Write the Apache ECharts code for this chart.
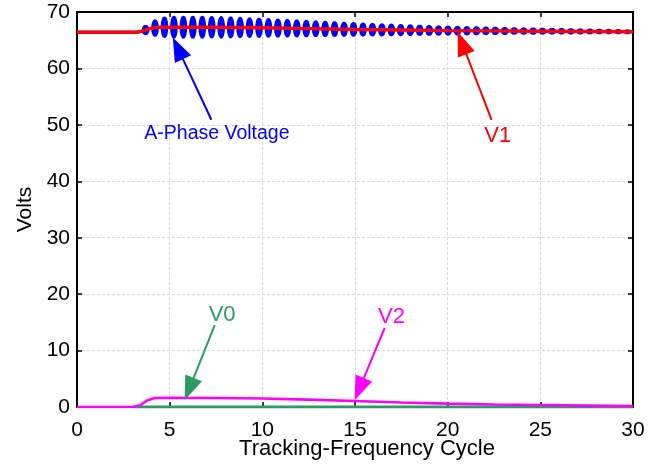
<!DOCTYPE html>
<html>
<head>
<meta charset="utf-8">
<script src="https://cdn.jsdelivr.net/npm/echarts@6/dist/echarts.min.js"></script>
<style>
html,body{margin:0;padding:0;background:#fff;}
#chart{width:670px;height:466px;}
</style>
</head>
<body>
<div id="chart"></div>
<script>
// ---------- data ----------
var xTicks = [0, 5, 10, 15, 20, 25, 30];
var yTicks = [0, 10, 20, 30, 40, 50, 60, 70];

// V1 (positive sequence)
var v1X = [0, 3.2, 3.5, 3.9, 4.3, 7, 10, 12.5, 15, 17.5, 20, 22.5, 25, 27.5, 30];
var v1Y = [66.4, 66.4, 66.6, 67.0, 67.3, 67.3, 67.2, 67.05, 66.9, 66.8, 66.7, 66.65, 66.6, 66.55, 66.5];

// A-phase voltage: steady part before the oscillation
var phaseX = [0, 3.2, 3.5];
var phaseY = [66.4, 66.4, 66.6];
// A-phase voltage: oscillation lobes (centre, mid value, half-height)
var lobeX = [3.70, 4.21, 4.72, 5.23, 5.74, 6.25, 6.76, 7.27, 7.78, 8.29, 8.80, 9.31, 9.82, 10.33, 10.84, 11.35, 11.86, 12.37, 12.88, 13.39, 13.90, 14.41, 14.92, 15.43, 15.94, 16.45, 16.96, 17.47, 17.98, 18.49, 19.00, 19.51, 20.02, 20.53, 21.04, 21.55, 22.06, 22.57, 23.08, 23.59, 24.10, 24.61, 25.12, 25.63, 26.14, 26.65, 27.16, 27.67, 28.18, 28.69, 29.20, 29.71];
var lobeMid = [66.8, 67.15, 67.3, 67.3, 67.3, 67.3, 67.3, 67.3, 67.28, 67.27, 67.25, 67.23, 67.2, 67.18, 67.15, 67.12, 67.09, 67.06, 67.03, 67.0, 66.97, 66.94, 66.91, 66.88, 66.86, 66.84, 66.82, 66.8, 66.78, 66.76, 66.74, 66.72, 66.7, 66.69, 66.68, 66.67, 66.66, 66.65, 66.64, 66.63, 66.62, 66.61, 66.6, 66.59, 66.58, 66.57, 66.56, 66.55, 66.54, 66.53, 66.52, 66.51];
var lobeAmp = [0.9, 1.55, 1.9, 2.05, 2.05, 2.05, 2.05, 2.0, 2.0, 1.95, 1.9, 1.85, 1.8, 1.75, 1.7, 1.65, 1.6, 1.55, 1.5, 1.45, 1.4, 1.35, 1.3, 1.25, 1.2, 1.16, 1.12, 1.08, 1.04, 1.0, 0.96, 0.92, 0.89, 0.86, 0.83, 0.8, 0.77, 0.74, 0.71, 0.68, 0.66, 0.64, 0.62, 0.6, 0.58, 0.56, 0.54, 0.52, 0.5, 0.48, 0.46, 0.44];

// V2 (negative sequence)
var v2X = [0, 3.0, 3.4, 3.8, 4.2, 5, 7.5, 10, 12.5, 15, 17.5, 20, 22.5, 25, 27.5, 30];
var v2Y = [0, 0, 0.3, 1.2, 1.6, 1.65, 1.6, 1.5, 1.3, 1.05, 0.8, 0.6, 0.45, 0.35, 0.25, 0.15];

// V0 (zero sequence)
var v0X = [3.1, 30];
var v0Y = [0, 0];

// annotation labels and anchors (data coordinates)
var annLabels = ['A-Phase Voltage', 'V1', 'V0', 'V2'];
var annText = [[7.55, 48.5], [22.7, 48.1], [7.83, 16.4], [16.97, 16.0]];
var annTail = [[7.25, 50.9], [22.37, 50.9], [7.43, 14.5], [16.6, 14.0]];
var annTip = [[5.17, 65.5], [20.54, 66.5], [5.81, 1.2], [14.98, 1.2]];

// ---------- styles ----------
var FONT = 'Liberation Sans, Arial, Helvetica, sans-serif';
var annColors = ['#0000ff', '#ff0000', '#2e9a63', '#ff00ff'];
var annFontSize = [19.5, 22, 22, 22];

function zip(a, b) { return a.map(function (v, i) { return [v, b[i]]; }); }

var lobeData = lobeX.map(function (x, i) { return [x, lobeMid[i], lobeAmp[i]]; });
var annData = annLabels.map(function (t, i) {
  return [annTail[i][0], annTail[i][1], annTip[i][0], annTip[i][1], annText[i][0], annText[i][1], i];
});

var gridLine = { show: true, lineStyle: { color: '#d8d8d8', type: [3, 2], width: 1 } };
var tick = { show: true, inside: true, length: 5, lineStyle: { color: '#000', width: 1.5 } };
var axLine = { show: true, onZero: false, lineStyle: { color: '#000', width: 2 } };

var chart = echarts.init(document.getElementById('chart'), null, { renderer: 'canvas' });
chart.setOption({
  animation: false,
  backgroundColor: '#fff',
  grid: { left: 77, right: 37, top: 12, bottom: 59, containLabel: false, outerBoundsMode: 'none' },
  xAxis: [{
    type: 'value', min: 0, max: 30, interval: 5, position: 'bottom',
    axisLine: axLine, axisTick: tick, splitLine: gridLine,
    axisLabel: { fontSize: 21, color: '#000', fontFamily: FONT, margin: 13,
      formatter: function (v) { return xTicks.indexOf(v) >= 0 ? String(v) : ''; } },
    name: 'Tracking-Frequency Cycle', nameLocation: 'middle', nameGap: 31, nameMoveOverlap: false,
    nameTextStyle: { fontSize: 22, color: '#000', fontFamily: FONT, padding: [0, 0, 0, 24] }
  }, {
    type: 'value', min: 0, max: 30, interval: 5, position: 'top',
    axisLine: axLine, axisTick: tick, splitLine: { show: false }, axisLabel: { show: false }
  }],
  yAxis: [{
    type: 'value', min: 0, max: 70, interval: 10, position: 'left',
    axisLine: axLine, axisTick: tick, splitLine: gridLine,
    axisLabel: { fontSize: 21, color: '#000', fontFamily: FONT, margin: 7,
      formatter: function (v) { return yTicks.indexOf(v) >= 0 ? String(v) : ''; } },
    name: 'Volts', nameLocation: 'middle', nameGap: 41, nameRotate: 90, nameMoveOverlap: false,
    nameTextStyle: { fontSize: 21, color: '#000', fontFamily: FONT }
  }, {
    type: 'value', min: 0, max: 70, interval: 10, position: 'right',
    axisLine: axLine, axisTick: tick, splitLine: { show: false }, axisLabel: { show: false }
  }],
  series: [
    { name: 'V0', type: 'line', data: zip(v0X, v0Y), symbol: 'none', z: 2,
      lineStyle: { color: '#2e9a63', width: 3.2 } },
    { name: 'V2', type: 'line', data: zip(v2X, v2Y), symbol: 'none', z: 3,
      lineStyle: { color: '#ff00ff', width: 2.6 } },
    { name: 'A-Phase Voltage', type: 'line', data: zip(phaseX, phaseY), symbol: 'none', z: 4,
      lineStyle: { color: '#0000ff', width: 3 } },
    { name: 'A-Phase Voltage lobes', type: 'custom', data: lobeData, z: 4, clip: true,
      encode: { x: 0, y: 1 },
      renderItem: function (params, api) {
        var c = api.coord([api.value(0), api.value(1)]);
        var t = api.coord([api.value(0), api.value(1) + api.value(2)]);
        var ry = c[1] - t[1];
        var rx = 3.8;
        var pts = [];
        for (var i = 0; i < 32; i++) {
          var a = i / 32 * 2 * Math.PI;
          var s = Math.sin(a);
          pts.push([c[0] + rx * (s >= 0 ? 1 : -1) * Math.pow(Math.abs(s), 0.9), c[1] - ry * Math.cos(a)]);
        }
        return { type: 'polygon', shape: { points: pts }, style: { fill: '#0000ff' } };
      } },
    { name: 'V1', type: 'line', data: zip(v1X, v1Y), symbol: 'none', z: 5,
      lineStyle: { color: '#ff0000', width: 3.4 } },
    { name: 'annotations', type: 'custom', data: annData, z: 10, clip: false,
      encode: { x: 0, y: 1 },
      renderItem: function (params, api) {
        var idx = api.value(6);
        var col = annColors[idx];
        var p0 = api.coord([api.value(0), api.value(1)]);
        var p1 = api.coord([api.value(2), api.value(3)]);
        var pt = api.coord([api.value(4), api.value(5)]);
        var dx = p1[0] - p0[0], dy = p1[1] - p0[1];
        var L = Math.sqrt(dx * dx + dy * dy);
        var ux = dx / L, uy = dy / L;
        var hl = 24, hw = 9;
        var bx = p1[0] - ux * hl, by = p1[1] - uy * hl;
        return {
          type: 'group',
          children: [
            { type: 'line', shape: { x1: p0[0], y1: p0[1], x2: bx + ux * 2, y2: by + uy * 2 },
              style: { stroke: col, lineWidth: 2 } },
            { type: 'polygon', shape: { points: [[p1[0], p1[1]], [bx - uy * hw, by + ux * hw], [bx + uy * hw, by - ux * hw]] },
              style: { fill: col } },
            { type: 'text', x: pt[0], y: pt[1],
              style: { text: annLabels[idx], fill: col, font: annFontSize[idx] + 'px ' + FONT, align: 'center', verticalAlign: 'middle' } }
          ]
        };
      } }
  ]
});
</script>
</body>
</html>
